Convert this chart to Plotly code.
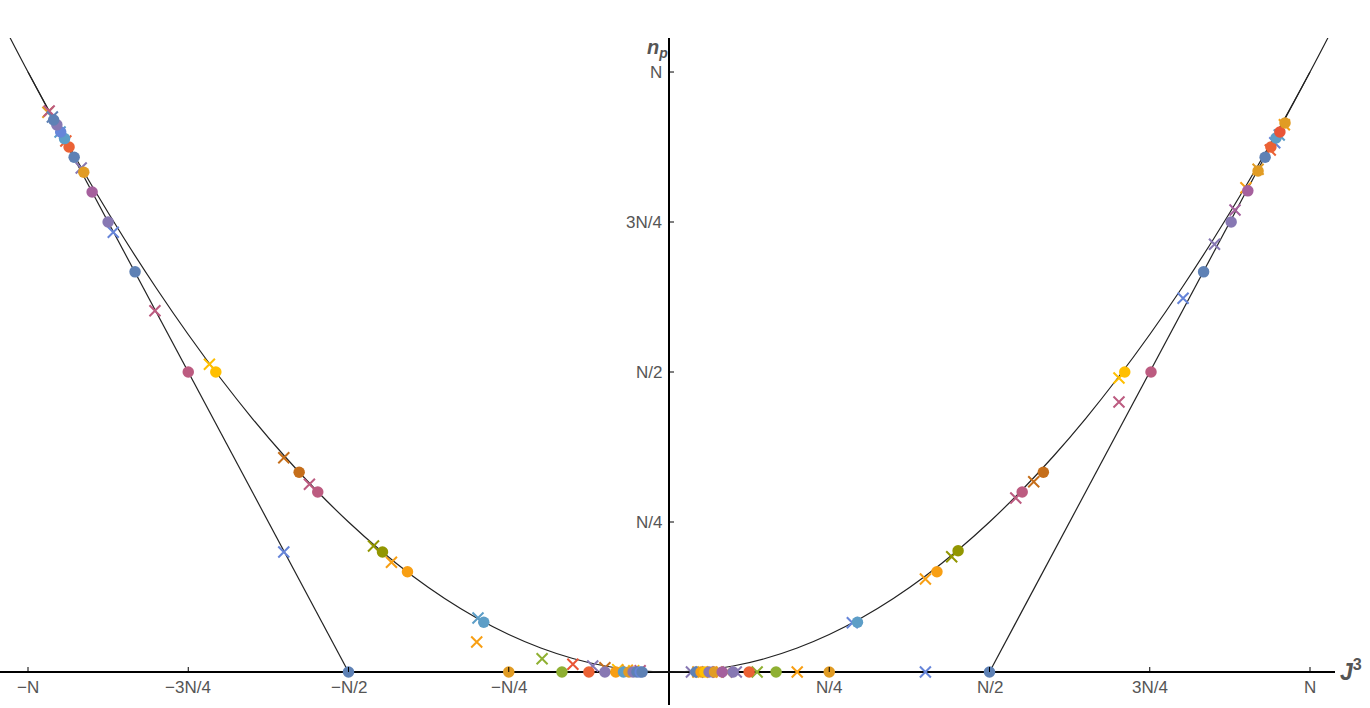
import plotly.graph_objects as go

# Mathematica default palette (ColorData[97])
palette = ["#5E81B5", "#E19C24", "#8FB032", "#EB6235", "#8778B3", "#C56E1A", "#5D9EC7",
           "#FFBF00", "#A5609D", "#929600", "#E95536", "#6685D9", "#F89F13", "#BC5B80"]

# curve (J3/N, np/N)
curve_j3 = [-1.028, -1.0, -0.95, -0.9, -0.85, -0.8, -0.75, -0.7, -0.65, -0.6, -0.55, -0.5, -0.45, -0.4,
            -0.35, -0.3, -0.25, -0.2, -0.15, -0.1, -0.05, 0.0, 0.05, 0.1, 0.15, 0.2, 0.25, 0.3, 0.35,
            0.4, 0.45, 0.5, 0.55, 0.6, 0.65, 0.7, 0.75, 0.8, 0.85, 0.9, 0.95, 1.0, 1.028]
curve_np = [1.057, 1.0, 0.9025, 0.81, 0.7225, 0.64, 0.5625, 0.49, 0.4225, 0.36, 0.3025, 0.25, 0.2025, 0.16,
            0.1225, 0.09, 0.0625, 0.04, 0.0225, 0.01, 0.0025, 0.0, 0.0025, 0.01, 0.0225, 0.04, 0.0625, 0.09,
            0.1225, 0.16, 0.2025, 0.25, 0.3025, 0.36, 0.4225, 0.49, 0.5625, 0.64, 0.7225, 0.81, 0.9025, 1.0, 1.057]
left_line_j3 = [-0.5, -1.0]
left_line_np = [0.0, 1.0]
right_line_j3 = [0.5, 1.0]
right_line_np = [0.0, 1.0]

# dots
dot_j3 = [-0.5, -0.75, -0.833, -0.875, -0.9,
          -0.289, -0.408, -0.447, -0.548, -0.577, -0.707,
          -0.913, -0.928, -0.936, -0.943, -0.949, -0.955, -0.96,
          -0.25, -0.167, -0.125, -0.1, -0.083, -0.071, -0.0625, -0.056, -0.05, -0.045, -0.042,
          0.042, 0.05, 0.056, 0.0625, 0.071, 0.083, 0.1, 0.125, 0.167, 0.25, 0.5,
          0.294, 0.418, 0.451, 0.551, 0.584, 0.711,
          0.752, 0.834, 0.877,
          0.903, 0.919, 0.93, 0.939, 0.947, 0.953, 0.961]
dot_np = [0.0, 0.5, 0.667, 0.75, 0.8,
          0.083, 0.167, 0.2, 0.3, 0.333, 0.5,
          0.833, 0.858, 0.875, 0.889, 0.9, 0.912, 0.92,
          0, 0, 0, 0, 0, 0, 0, 0, 0, 0, 0,
          0, 0, 0, 0, 0, 0, 0, 0, 0, 0, 0,
          0.083, 0.167, 0.202, 0.3, 0.333, 0.5,
          0.5, 0.667, 0.75,
          0.802, 0.835, 0.858, 0.875, 0.89, 0.9, 0.915]
dot_series = [0, 13, 0, 4, 8,
              6, 12, 9, 13, 5, 7,
              1, 0, 3, 6, 11, 4, 0,
              1, 2, 3, 4, 12, 6, 1, 4, 0, 11, 0,
              0, 12, 7, 4, 1, 8, 4, 3, 2, 1, 0,
              6, 12, 9, 13, 5, 7,
              13, 0, 4,
              8, 1, 0, 3, 6, 10, 1]

# crosses
cross_j3 = [-0.969, -0.967, -0.962, -0.95, -0.941, -0.917,
            -0.867, -0.802, -0.601, -0.717, -0.601, -0.561, -0.461, -0.433, -0.298,
            -0.3, -0.198, -0.15, -0.119, -0.1, -0.08, -0.065, -0.055, -0.045,
            0.035, 0.045, 0.053, 0.06, 0.067, 0.077, 0.09, 0.105, 0.1375, 0.2, 0.4,
            0.286, 0.4, 0.441, 0.541, 0.569, 0.702, 0.702,
            0.802, 0.851, 0.883, 0.9, 0.919, 0.938, 0.945, 0.952, 0.96]
cross_np = [0.933, 0.935, 0.925, 0.9, 0.885, 0.84,
            0.733, 0.602, 0.2, 0.513, 0.357, 0.313, 0.21, 0.183, 0.09,
            0.05, 0.022, 0.013, 0.01, 0.007, 0.004, 0.003, 0.002, 0.002,
            0, 0, 0, 0, 0, 0, 0, 0, 0, 0, 0,
            0.082, 0.155, 0.192, 0.29, 0.317, 0.49, 0.45,
            0.623, 0.713, 0.77, 0.807, 0.838, 0.87, 0.882, 0.895, 0.912]
cross_series = [1, 13, 0, 6, 3, 4,
                11, 13, 11, 7, 5, 13, 9, 12, 6,
                12, 2, 10, 4, 5, 7, 12, 7, 13,
                4, 12, 7, 4, 12, 8, 1, 4, 2, 12, 11,
                11, 12, 9, 13, 5, 7, 13,
                11, 4, 8, 12, 1, 3, 11, 6, 12]

x_tick_vals = [-1, -0.75, -0.5, -0.25, 0.25, 0.5, 0.75, 1]
x_tick_text = ["\u2212N", "\u22123N/4", "\u2212N/2", "\u2212N/4", "N/4", "N/2", "3N/4", "N"]
y_tick_vals = [0.25, 0.5, 0.75, 1]
y_tick_text = ["N/4", "N/2", "3N/4", "N"]

fig = go.Figure()
fig.add_trace(go.Scatter(x=curve_j3, y=curve_np, mode="lines", line=dict(color="#222222", width=1.2, shape="spline")))
fig.add_trace(go.Scatter(x=left_line_j3, y=left_line_np, mode="lines", line=dict(color="#222222", width=1.2)))
fig.add_trace(go.Scatter(x=right_line_j3, y=right_line_np, mode="lines", line=dict(color="#222222", width=1.2)))

cross_colors = [palette[i] for i in cross_series]
fig.add_trace(go.Scatter(x=cross_j3, y=cross_np, mode="markers",
                         marker=dict(symbol="x-thin", size=11, color=cross_colors,
                                     line=dict(width=2, color=cross_colors))))
dot_colors = [palette[i] for i in dot_series]
fig.add_trace(go.Scatter(x=dot_j3, y=dot_np, mode="markers",
                         marker=dict(symbol="circle", size=11.5, color=dot_colors, line=dict(width=0))))

label_font = dict(family="Liberation Sans, Arial", size=17, color="#555555")
shapes = []
annotations = []
for v, t in zip(x_tick_vals, x_tick_text):
    shapes.append(dict(type="line", xref="x", yref="y", x0=v, x1=v, ysizemode="pixel", yanchor=0,
                       y0=0, y1=5, line=dict(color="black", width=1)))
    annotations.append(dict(x=v, y=0, xref="x", yref="y", text=t, showarrow=False,
                            yanchor="top", yshift=-4, font=label_font))
for v, t in zip(y_tick_vals, y_tick_text):
    shapes.append(dict(type="line", xref="x", yref="y", y0=v, y1=v, xsizemode="pixel", xanchor=0,
                       x0=0, x1=5, line=dict(color="black", width=1)))
    annotations.append(dict(x=0, y=v, xref="x", yref="y", text=t, showarrow=False,
                            xanchor="right", xshift=-5, font=label_font))

annotations.append(dict(x=1, y=0, xref="paper", yref="y", text="<b><i>J</i></b><sup><b>3</b></sup>",
                        showarrow=False, xanchor="left", xshift=3, yshift=2,
                        font=dict(family="Liberation Sans, Arial", size=23, color="#555555")))
annotations.append(dict(x=0, y=1, xref="x", yref="paper", text="<b><i>n<sub>p</sub></i></b>",
                        showarrow=False, xanchor="center", xshift=-12, yshift=4,
                        font=dict(family="Liberation Sans, Arial", size=20, color="#555555")))

fig.update_layout(
    width=1370, height=708,
    margin=dict(l=0, r=35, t=38, b=3),
    plot_bgcolor="white", paper_bgcolor="white",
    showlegend=False,
    shapes=shapes, annotations=annotations,
    xaxis=dict(range=[-1.0437, 1.039], showgrid=False, showticklabels=False, ticks="",
               zeroline=True, zerolinecolor="black", zerolinewidth=2),
    yaxis=dict(range=[-0.055, 1.0567], showgrid=False, showticklabels=False, ticks="",
               zeroline=True, zerolinecolor="black", zerolinewidth=2),
)

fig.write_html("out.html", config={"displayModeBar": False},
               post_script="document.body.style.margin='0px';")
